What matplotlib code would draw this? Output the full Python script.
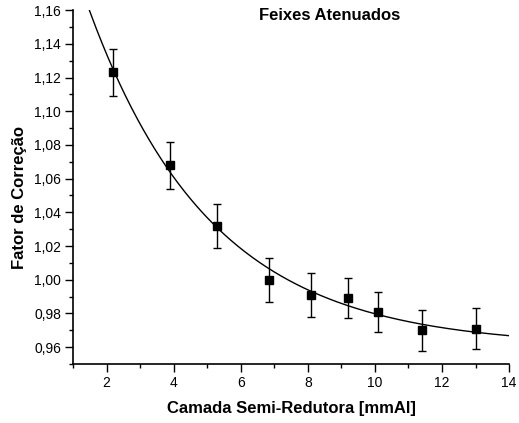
import numpy as np
import matplotlib
matplotlib.use("Agg")
import matplotlib.pyplot as plt
from matplotlib.ticker import MultipleLocator, FuncFormatter

plt.rcParams['font.family'] = ['Liberation Sans', 'DejaVu Sans']

# data
camada = [2.2, 3.9, 5.3, 6.85, 8.1, 9.2, 10.1, 11.4, 13.0]
fator = [1.123, 1.068, 1.032, 1.000, 0.991, 0.989, 0.981, 0.970, 0.971]
erro = [0.014, 0.014, 0.013, 0.013, 0.013, 0.012, 0.012, 0.012, 0.012]

# exponential decay fit y = y0 + A*exp(-x/t), simple grid search on t
x = np.array(camada)
y = np.array(fator)
best = None
for t in np.linspace(0.5, 10, 2000):
    M = np.column_stack([np.ones_like(x), np.exp(-x / t)])
    coef, res, _, _ = np.linalg.lstsq(M, y, rcond=None)
    r = np.sum((M @ coef - y) ** 2)
    if best is None or r < best[0]:
        best = (r, t, coef)
_, t_fit, (y0, A) = best
xs = np.linspace(1.0, 14.0, 300)
ys = y0 + A * np.exp(-xs / t_fit)

fig = plt.figure(figsize=(5.19, 4.23), dpi=100)
ax = fig.add_axes([0.1407, 0.1395, 0.8403, 0.8365])

ax.plot(xs, ys, color='black', lw=1.0)
ax.errorbar(camada, fator, yerr=erro, fmt='s', color='black', ms=5.5,
            ecolor='black', elinewidth=1.0, capsize=3, capthick=1.0)

ax.set_xlim(1, 14)
ax.set_ylim(0.95, 1.16)
ax.xaxis.set_major_locator(MultipleLocator(2))
ax.xaxis.set_minor_locator(MultipleLocator(1))
ax.yaxis.set_major_locator(MultipleLocator(0.02))
ax.yaxis.set_minor_locator(MultipleLocator(0.01))
ax.yaxis.set_major_formatter(FuncFormatter(lambda v, p: ('%.2f' % v).replace('.', ',')))

ax.spines['top'].set_visible(False)
ax.spines['right'].set_visible(False)
ax.spines['left'].set_linewidth(1.2)
ax.spines['bottom'].set_linewidth(1.2)
ax.tick_params(which='major', direction='out', length=5.5, width=1.0, labelsize=10, pad=3)
ax.tick_params(which='minor', direction='out', length=3, width=1.0)

ax.set_xlabel('Camada Semi-Redutora [mmAl]', fontsize=12, fontweight='bold', labelpad=8)
ax.set_ylabel('Fator de Correção', fontsize=12, fontweight='bold', labelpad=8)
ax.yaxis.set_label_coords(-0.105, 0.47)
ax.text(8.66, 1.157, 'Feixes Atenuados', fontsize=12, fontweight='bold',
        ha='center', va='center')

fig.savefig('out.png', dpi=100)
